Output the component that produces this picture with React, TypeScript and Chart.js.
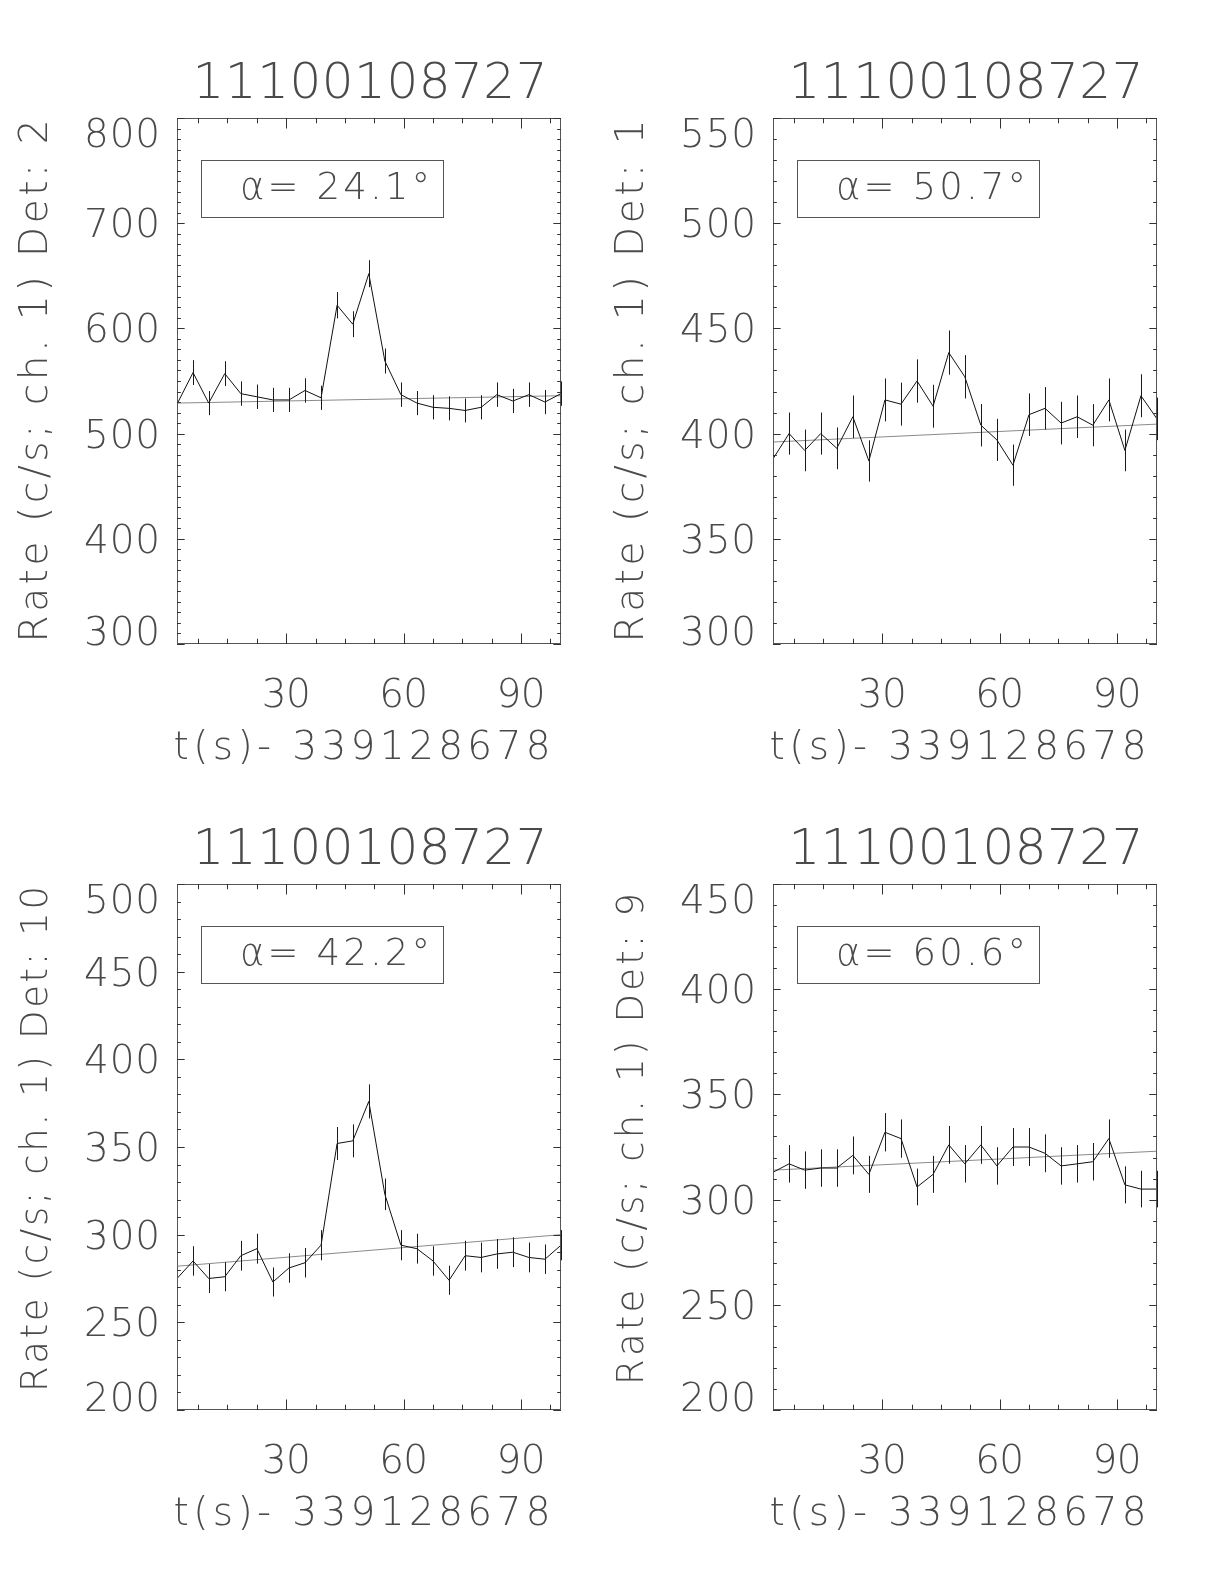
import React, { useEffect, useRef } from 'react';
import { Chart, registerables } from 'chart.js';

Chart.register(...registerables);

// ---------------- data ----------------
const TITLE = '11100108727';
const X_TITLE = 't(s)- 339128678';
const X_MIN = 2.1;
const X_MAX = 100.2;
const X_MAJOR = 30;
const X_MINOR = 7.5;
const X_TICK_LABELS = [30, 60, 90];

const times = [2.1, 6.2, 10.2, 14.3, 18.4, 22.5, 26.6, 30.7, 34.8, 38.9, 43.0, 47.0, 51.1, 55.2, 59.3, 63.4, 67.5, 71.6, 75.7, 79.8, 83.8, 87.9, 92.0, 96.1, 100.2];

// Det 2
const det2Rates = [528, 558, 529, 557, 538, 535, 532, 532, 541, 534, 622, 604, 652, 569, 537, 529, 525, 524, 522, 525, 537, 531, 537, 530, 538];
const det2Errors = [11.5, 11.8, 11.5, 11.8, 11.6, 11.6, 11.5, 11.5, 11.6, 11.5, 12.5, 12.3, 12.8, 11.9, 11.6, 11.5, 11.5, 11.4, 11.4, 11.5, 11.6, 11.5, 11.6, 11.5, 11.6];
const det2Fit = [529, 536];
const det2YTicks = [300, 400, 500, 600, 700, 800];

// Det 1
const det1Rates = [388, 400, 392, 400, 393, 408, 387, 416, 414, 425, 413, 438.5, 427, 404, 397, 385, 409, 412, 405, 408, 404, 416, 392, 418, 407];
const det1Errors = [9.9, 10, 9.9, 10, 9.9, 10.1, 9.8, 10.2, 10.2, 10.3, 10.2, 10.5, 10.3, 10.1, 10, 9.8, 10.1, 10.1, 10.1, 10.1, 10, 10.2, 9.9, 10.2, 10.1];
const det1Fit = [396, 404.5];
const det1YTicks = [300, 350, 400, 450, 500, 550];

// Det 10
const det10Rates = [275, 285, 275, 276, 288, 292, 273, 281, 284, 294, 352, 353.5, 376, 323, 294, 292, 285, 274, 288, 287, 289, 290, 287, 286, 294];
const det10Errors = [8.3, 8.4, 8.3, 8.3, 8.5, 8.5, 8.3, 8.4, 8.4, 8.6, 9.4, 9.4, 9.7, 9.0, 8.6, 8.5, 8.4, 8.3, 8.5, 8.5, 8.5, 8.5, 8.5, 8.4, 8.6];
const det10Fit = [282, 300];
const det10YTicks = [200, 250, 300, 350, 400, 450, 500];

// Det 9
const det9Rates = [313, 317, 314, 315, 315, 321, 312, 332, 329, 306, 312, 326, 317, 326, 316, 325, 325, 322, 316, 317, 318, 329, 307, 305, 305];
const det9Errors = [8.8, 8.9, 8.9, 8.9, 8.9, 9.0, 8.8, 9.1, 9.1, 8.7, 8.8, 9.0, 8.9, 9.0, 8.9, 9.0, 9.0, 9.0, 8.9, 8.9, 8.9, 9.1, 8.8, 8.7, 8.7];
const det9Fit = [314, 323];
const det9YTicks = [200, 250, 300, 350, 400, 450];

const Y_MINOR = 10;

// ---------------- layout ----------------
const FONT = '"DejaVu Sans", "Liberation Sans", sans-serif';
const TEXT_COLOR = '#4a4a4a';
const PLOT_W = 384;
const PLOT_H = 526;

type Panel = {
  col: number;
  row: number;
  yTitle: string;
  legend: string;
  rates: number[];
  errors: number[];
  fit: number[];
  yTicks: number[];
  yMajor: number;
  yTitleLen: number;
  yTitleShift: number;
  yTitleFont: number;
};

const panels: Panel[] = [
  { col: 0, row: 0, yTitle: 'Rate (c/s; ch. 1) Det: 2', legend: 'α= 24.1°', rates: det2Rates, errors: det2Errors, fit: det2Fit, yTicks: det2YTicks, yMajor: 100, yTitleLen: 523, yTitleShift: 0, yTitleFont: 39 },
  { col: 1, row: 0, yTitle: 'Rate (c/s; ch. 1) Det: 1', legend: 'α= 50.7°', rates: det1Rates, errors: det1Errors, fit: det1Fit, yTicks: det1YTicks, yMajor: 50, yTitleLen: 523, yTitleShift: 0, yTitleFont: 39 },
  { col: 0, row: 1, yTitle: 'Rate (c/s; ch. 1) Det: 10', legend: 'α= 42.2°', rates: det10Rates, errors: det10Errors, fit: det10Fit, yTicks: det10YTicks, yMajor: 50, yTitleLen: 506, yTitleShift: -8, yTitleFont: 37 },
  { col: 1, row: 1, yTitle: 'Rate (c/s; ch. 1) Det: 9', legend: 'α= 60.6°', rates: det9Rates, errors: det9Errors, fit: det9Fit, yTicks: det9YTicks, yMajor: 50, yTitleLen: 492, yTitleShift: -8, yTitleFont: 37 },
];

function drawSpaced(ctx: CanvasRenderingContext2D, text: string, x: number, y: number, width: number | null, align: 'left' | 'center' | 'right') {
  const chars = Array.from(text);
  const widths = chars.map((c) => ctx.measureText(c).width);
  const natural = widths.reduce((a, b) => a + b, 0);
  const total = width ?? natural;
  const extra = chars.length > 1 ? (total - natural) / (chars.length - 1) : 0;
  let cx = align === 'left' ? x : align === 'center' ? x - total / 2 : x - total;
  ctx.textAlign = 'left';
  ctx.textBaseline = 'alphabetic';
  chars.forEach((c, i) => {
    ctx.fillText(c, cx, y);
    cx += widths[i] + extra;
  });
}

function makePlugin(p: Panel) {
  return {
    id: 'idlPanel',
    afterDatasetsDraw(chart: any) {
      const { ctx, chartArea: a, scales } = chart;
      const xs = scales.x;
      const ys = scales.y;
      const yMin = p.yTicks[0];
      const yMax = p.yTicks[p.yTicks.length - 1];
      ctx.save();

      // error bars
      ctx.strokeStyle = '#1a1a1a';
      ctx.lineWidth = 1;
      ctx.beginPath();
      times.forEach((t, i) => {
        const px = Math.round(xs.getPixelForValue(t)) + 0.5;
        ctx.moveTo(px, ys.getPixelForValue(p.rates[i] - p.errors[i]));
        ctx.lineTo(px, ys.getPixelForValue(p.rates[i] + p.errors[i]));
      });
      ctx.stroke();

      // frame
      ctx.strokeStyle = '#555';
      ctx.strokeRect(a.left + 0.5, a.top + 0.5, a.right - a.left - 1, a.bottom - a.top - 1);

      // y ticks
      ctx.strokeStyle = '#333';
      ctx.beginPath();
      const xLenMaj = 0.02 * (a.right - a.left);
      for (let v = yMin; v <= yMax; v += Y_MINOR) {
        const py = Math.round(ys.getPixelForValue(v)) + 0.5;
        const len = (v - yMin) % p.yMajor === 0 ? xLenMaj : xLenMaj / 2;
        ctx.moveTo(a.left, py);
        ctx.lineTo(a.left + len, py);
        ctx.moveTo(a.right, py);
        ctx.lineTo(a.right - len, py);
      }
      // x ticks
      const yLenMaj = 0.02 * (a.bottom - a.top);
      for (let v = X_MINOR; v <= X_MAX; v += X_MINOR) {
        if (v < X_MIN) continue;
        const px = Math.round(xs.getPixelForValue(v)) + 0.5;
        const len = v % X_MAJOR === 0 ? yLenMaj : yLenMaj / 2;
        ctx.moveTo(px, a.bottom);
        ctx.lineTo(px, a.bottom - len);
        ctx.moveTo(px, a.top);
        ctx.lineTo(px, a.top + len);
      }
      ctx.stroke();

      ctx.fillStyle = TEXT_COLOR;
      // y tick labels
      ctx.font = `200 39px ${FONT}`;
      p.yTicks.forEach((v, i) => {
        let base = ys.getPixelForValue(v) + 14;
        if (i === p.yTicks.length - 1) base = a.top + 29;
        if (i === 0) base = a.bottom + 1;
        const s = String(v);
        drawSpaced(ctx, s, a.left - 17, base, s.length * 25.3, 'right');
      });
      // x tick labels
      X_TICK_LABELS.forEach((v) => {
        const s = String(v);
        drawSpaced(ctx, s, xs.getPixelForValue(v), a.bottom + 63, s.length * 24.5, 'center');
      });
      // x title
      drawSpaced(ctx, X_TITLE, (a.left + a.right) / 2 - 7, a.bottom + 115, 377, 'center');
      // y title
      ctx.save();
      ctx.font = `200 ${p.yTitleFont}px ${FONT}`;
      ctx.translate(a.left - 130, (a.top + a.bottom) / 2 + p.yTitleShift);
      ctx.rotate(-Math.PI / 2);
      drawSpaced(ctx, p.yTitle, 0, 0, p.yTitleLen, 'center');
      ctx.restore();
      // title
      ctx.font = `200 50px ${FONT}`;
      drawSpaced(ctx, TITLE, (a.left + a.right) / 2 + 1, a.top - 20, 355, 'center');
      // legend box
      ctx.strokeStyle = '#555';
      ctx.strokeRect(a.left + 24.5, a.top + 42.5, 242, 57);
      ctx.font = `200 37px ${FONT}`;
      drawSpaced(ctx, p.legend, a.left + 63, a.top + 81, 190, 'left');

      ctx.restore();
    },
  };
}

function PanelChart({ p }: { p: Panel }) {
  const ref = useRef<HTMLCanvasElement>(null);
  const cLeft = p.col === 0 ? 0 : 600;
  const cTop = p.row === 0 ? 0 : 780;
  const cW = p.col === 0 ? 600 : 624;
  const cH = p.row === 0 ? 780 : 804;
  const plotLeft = 177 + p.col * 596;
  const plotTop = 118 + p.row * 766;

  useEffect(() => {
    if (!ref.current) return;
    const chart = new Chart(ref.current, {
      type: 'line',
      data: {
        datasets: [
          {
            data: times.map((t, i) => ({ x: t, y: p.rates[i] })),
            borderColor: '#111',
            borderWidth: 1,
            pointRadius: 0,
            tension: 0,
            fill: false,
          },
          {
            data: [
              { x: X_MIN, y: p.fit[0] },
              { x: X_MAX, y: p.fit[1] },
            ],
            borderColor: '#8a8a8a',
            borderWidth: 1,
            pointRadius: 0,
            tension: 0,
            fill: false,
          },
        ],
      },
      options: {
        animation: false,
        responsive: false,
        events: [],
        layout: {
          padding: {
            left: plotLeft - cLeft,
            top: plotTop - cTop,
            right: cLeft + cW - (plotLeft + PLOT_W),
            bottom: cTop + cH - (plotTop + PLOT_H),
          },
        },
        plugins: { legend: { display: false }, tooltip: { enabled: false } },
        scales: {
          x: { type: 'linear', min: X_MIN, max: X_MAX, display: false },
          y: { type: 'linear', min: p.yTicks[0], max: p.yTicks[p.yTicks.length - 1], display: false },
        },
      },
      plugins: [makePlugin(p)],
    } as any);
    return () => chart.destroy();
  }, []);

  return (
    <canvas
      ref={ref}
      width={cW}
      height={cH}
      style={{ position: 'absolute', left: cLeft, top: cTop, width: cW, height: cH }}
    />
  );
}

export default function App() {
  return (
    <div style={{ position: 'absolute', left: 0, top: 0, width: 1224, height: 1584, background: '#fff', overflow: 'hidden' }}>
      {panels.map((p, i) => (
        <PanelChart key={i} p={p} />
      ))}
    </div>
  );
}
